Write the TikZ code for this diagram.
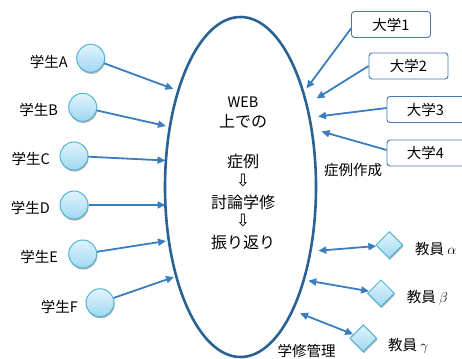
\documentclass[tikz,border=0pt]{standalone}
\usepackage{fontspec}
\setmainfont{Noto Sans CJK JP}
\newfontfamily\arrowfont{DejaVu Sans}
\usetikzlibrary{shapes.geometric,arrows.meta,shadows}
\definecolor{ellc}{RGB}{42,98,148}
\definecolor{arrc}{RGB}{60,125,190}
\definecolor{circb}{RGB}{80,180,212}
\definecolor{circt}{RGB}{225,244,252}
\definecolor{circbot}{RGB}{160,216,240}
\definecolor{boxb}{RGB}{70,120,170}
\tikzset{
  student/.style={circle,minimum size=28pt,inner sep=0pt,draw=circb,line width=1pt,
    top color=circt,bottom color=circbot,
    drop shadow={shadow xshift=0.6pt,shadow yshift=-1.6pt,opacity=0.3,fill=black}},
  teacher/.style={diamond,minimum width=27pt,minimum height=27pt,inner sep=0pt,draw=circb,line width=1pt,
    top color=circt,bottom color=circbot,
    drop shadow={shadow xshift=0.6pt,shadow yshift=-1.6pt,opacity=0.3,fill=black}},
  univ/.style={rectangle,rounded corners=3pt,draw=boxb,line width=0.9pt,fill=white,
    minimum width=79pt,minimum height=26pt,inner sep=0pt,font=\fontsize{14.5}{16}\selectfont},
  lbl/.style={inner sep=0pt,font=\fontsize{14.5}{16}\selectfont},
  ctext/.style={inner sep=0pt,font=\fontsize{16}{18}\selectfont},
  darrow/.style={inner sep=0pt,font=\arrowfont\fontsize{17}{18}\selectfont},
  arr/.style={draw=arrc,line width=1.8pt,-{Triangle[length=8pt,width=7pt]}},
  darr/.style={draw=arrc,line width=1.8pt,{Triangle[length=8pt,width=7pt]}-{Triangle[length=8pt,width=7pt]}},
}
\begin{document}
\begin{tikzpicture}[x=1pt,y=-1pt]
\useasboundingbox (0,0) rectangle (462,358);
\begin{scope}
\clip (0,0) rectangle (462,358);
% ellipse
\node[ellipse,draw=ellc,line width=2.6pt,minimum width=151pt,minimum height=340pt,inner sep=0pt] (ell) at (240.5,187) {};
\node[ctext,font=\fontsize{14.5}{16}\selectfont] (t1) at (243,102) {WEB};
\node[ctext] (t2) at (243,121) {上での};
\node[ctext] (t3) at (243,161) {症例};
\node[darrow] (t4) at (243,181) {⇩};
\node[ctext] (t5) at (243,202) {討論学修};
\node[darrow] (t6) at (243,221) {⇩};
\node[ctext] (t7) at (243,242) {振り返り};
% students
\node[student] (sa) at (90.7,58.3) {};
\node[student] (sb) at (82.7,107.3) {};
\node[student] (sc) at (74,156) {};
\node[student] (sd) at (74,205) {};
\node[student] (se) at (82.7,254) {};
\node[student] (sf) at (100,302.7) {};
\node[lbl,anchor=east] (la) at (68,62) {学生A};
\node[lbl,anchor=east] (lb) at (58,110) {学生B};
\node[lbl,anchor=east] (lc) at (50,159) {学生C};
\node[lbl,anchor=east] (ld) at (50,208) {学生D};
\node[lbl,anchor=east] (le) at (58,257) {学生E};
\node[lbl,anchor=east] (lf) at (78,307) {学生F};
\coordinate (ta) at (173.5,89);
\coordinate (tb) at (166,126);
\coordinate (tc) at (165.5,160.5);
\coordinate (td) at (165.5,205);
\coordinate (te) at (166,241);
\coordinate (tf) at (174,277);
\draw[arr] (sa) -- (ta);
\draw[arr] (sb) -- (tb);
\draw[arr] (sc) -- (tc);
\draw[arr] (sd) -- (td);
\draw[arr] (se) -- (te);
\draw[arr] (sf) -- (tf);
% universities
\node[univ] (u1) at (391,24.5) {大学1};
\node[univ] (u2) at (408.5,66) {大学2};
\node[univ] (u3) at (426.5,109.5) {\hspace*{-2pt}大学3};
\node[univ] (u4) at (426.5,153) {\hspace*{-2pt}大学4};
\coordinate (tu1) at (306.5,88.5);
\coordinate (tu2) at (316.5,98.5);
\coordinate (tu3) at (318,116.5);
\coordinate (tu4) at (321.5,131.5);
\draw[arr] ([yshift=-4pt]u1.west) -- (tu1);
\draw[arr] (u2.west) -- (tu2);
\draw[arr] ([yshift=1.5pt]u3.west) -- (tu3);
\draw[arr] ([yshift=3pt]u4.west) -- (tu4);
\node[lbl] (sakusei) at (353,170) {症例作成};
% teachers
\node[teacher] (ka) at (389.3,245) {};
\node[teacher] (kb) at (381,293.3) {};
\node[teacher] (kc) at (363.3,338.3) {};
\node[lbl,anchor=west] (lka) at (415,249.3) {教員 $\alpha$};
\node[lbl,anchor=west] (lkb) at (406.7,298) {教員 $\beta$};
\node[lbl,anchor=west] (lkc) at (388,346) {教員 $\gamma$};
\coordinate (tka) at (318.3,250.7);
\coordinate (tkb) at (308.3,280.7);
\coordinate (tkc) at (300,313.3);
\draw[darr] (tka) -- (ka);
\draw[darr] (tkb) -- (kb);
\draw[darr] (tkc) -- (kc);
\node[lbl] (kanri) at (306.7,350.5) {学修管理};
\end{scope}
\end{tikzpicture}
\end{document}
